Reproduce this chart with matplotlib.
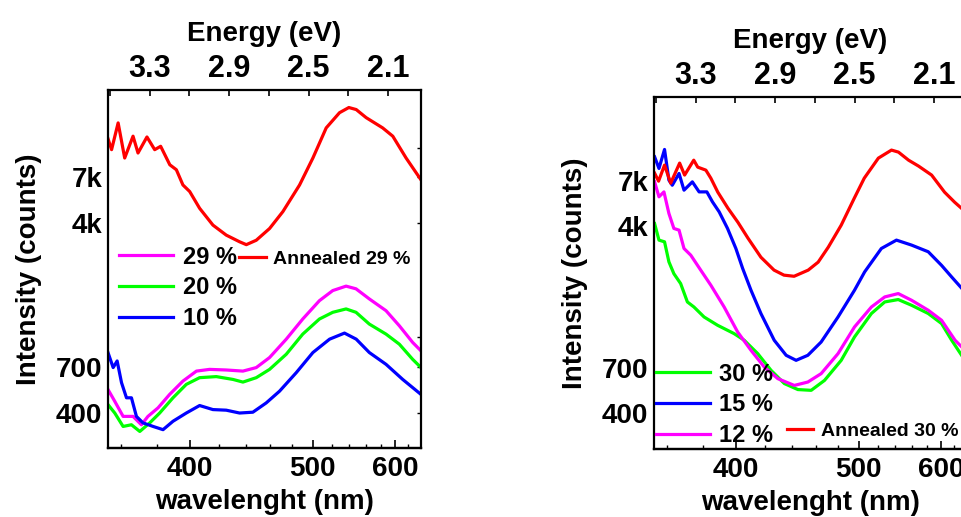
import numpy as np
import matplotlib
matplotlib.use("Agg")
import matplotlib.pyplot as plt
from matplotlib.ticker import NullFormatter

plt.rcParams['font.family'] = ['Liberation Sans', 'DejaVu Sans']
plt.rcParams['font.weight'] = 'bold'

HC = 1239.84  # eV*nm

# ---- left panel (energy in eV, intensity in counts) ----
ann29_ev = [3.511, 3.492, 3.459, 3.426, 3.384, 3.359, 3.314, 3.275, 3.245, 3.199, 3.166,
            3.133, 3.099, 3.049, 2.982, 2.915, 2.848, 2.814, 2.764, 2.697, 2.630, 2.546,
            2.479, 2.412, 2.345, 2.298, 2.261, 2.211, 2.128, 2.077, 2.010, 1.935]
ann29_cts = [11300, 9820, 13600, 8870, 11570, 9430, 11460, 9820, 10230, 8170, 7690,
             6390, 5900, 4810, 3920, 3470, 3200, 3090, 3260, 3760, 4620, 6390,
             8870, 12800, 15400, 16400, 16000, 14500, 12800, 11570, 8870, 6800]

p29_ev = [3.510, 3.476, 3.434, 3.384, 3.342, 3.309, 3.258, 3.200, 3.133, 3.065, 2.999,
          2.915, 2.831, 2.764, 2.697, 2.613, 2.530, 2.446, 2.379, 2.312, 2.262, 2.195,
          2.111, 2.044, 1.977, 1.935]
p29_cts = [530, 459, 382, 382, 345, 382, 424, 499, 587, 663, 677,
           672, 663, 692, 782, 978, 1250, 1563, 1767, 1865, 1805, 1596,
           1383, 1151, 940, 848]

p20_ev = [3.510, 3.476, 3.434, 3.392, 3.350, 3.300, 3.250, 3.183, 3.116, 3.049, 2.965,
          2.881, 2.831, 2.764, 2.697, 2.613, 2.530, 2.446, 2.379, 2.312, 2.262, 2.195,
          2.111, 2.044, 1.977, 1.935]
p20_cts = [441, 398, 338, 345, 318, 353, 398, 479, 564, 612, 620,
           599, 580, 612, 677, 814, 1040, 1250, 1356, 1413, 1356, 1175,
           1040, 920, 765, 692]

p10_ev = [3.510, 3.484, 3.464, 3.442, 3.417, 3.392, 3.367, 3.334, 3.283, 3.233, 3.183,
          3.116, 3.049, 2.982, 2.915, 2.848, 2.781, 2.714, 2.647, 2.563, 2.479, 2.395,
          2.320, 2.261, 2.195, 2.111, 2.027, 1.935]
p10_cts = [831, 692, 750, 576, 479, 479, 382, 353, 338, 325, 360,
           398, 436, 415, 412, 398, 402, 450, 519, 650, 831, 978,
           1053, 978, 831, 720, 599, 499]

# ---- right panel ----
ann30_ev = [3.507, 3.487, 3.457, 3.426, 3.381, 3.356, 3.310, 3.290, 3.249, 3.224, 3.189,
            3.138, 3.088, 3.037, 2.972, 2.906, 2.856, 2.805, 2.734, 2.684, 2.633, 2.568,
            2.502, 2.452, 2.381, 2.315, 2.280, 2.229, 2.179, 2.113, 2.048, 1.997, 1.952]
ann30_cts = [7680, 6960, 8480, 6790, 8690, 7500, 9010, 8270, 7970, 7220, 6080,
             4990, 4200, 3450, 2730, 2330, 2190, 2160, 2330, 2570, 3090, 4050,
             5650, 7220, 9240, 10200, 9950, 9010, 8380, 7500, 6080, 5370, 4870]

p15_ev = [3.507, 3.485, 3.457, 3.435, 3.418, 3.384, 3.359, 3.317, 3.283, 3.244, 3.216,
          3.182, 3.140, 3.098, 3.064, 3.022, 2.972, 2.905, 2.845, 2.795, 2.736, 2.669,
          2.584, 2.501, 2.450, 2.366, 2.290, 2.214, 2.130, 2.063, 2.012, 1.953]
p15_cts = [9390, 8140, 10280, 7050, 6620, 7650, 6230, 6900, 6100, 6100, 5400,
           4770, 3890, 3040, 2380, 1820, 1366, 983, 817, 768, 817, 962,
           1309, 1820, 2280, 3040, 3370, 3170, 2920, 2470, 2140, 1820]

p12_ev = [3.507, 3.485, 3.460, 3.435, 3.410, 3.384, 3.359, 3.325, 3.275, 3.224, 3.157,
          3.089, 3.022, 2.955, 2.887, 2.804, 2.736, 2.669, 2.584, 2.501, 2.416, 2.349,
          2.281, 2.214, 2.130, 2.063, 1.995, 1.953]
p12_cts = [6900, 5740, 6100, 4680, 3890, 3810, 3040, 2800, 2330, 1935, 1480,
           1088, 869, 707, 613, 564, 588, 652, 834, 1158, 1480, 1675,
           1746, 1608, 1422, 1257, 983, 887]

p30_ev = [3.507, 3.485, 3.457, 3.435, 3.410, 3.376, 3.342, 3.309, 3.258, 3.190, 3.107,
          3.056, 2.988, 2.921, 2.854, 2.786, 2.719, 2.652, 2.568, 2.501, 2.416, 2.349,
          2.281, 2.214, 2.130, 2.063, 2.012, 1.962]
p30_cts = [4130, 3370, 3300, 2580, 2230, 1975, 1575, 1480, 1309, 1182, 1067,
           983, 834, 679, 577, 536, 531, 600, 768, 1024, 1366, 1575,
           1622, 1512, 1366, 1207, 983, 817]

energy_ticks = [3.3, 2.9, 2.5, 2.1]
energy_minor = [3.5, 3.1, 2.7, 2.3]
nm_ticks = [400, 500, 600]
nm_minor = [360, 380, 420, 440, 460, 480, 520, 540, 560, 580, 620]
y_ticks = [400, 700, 4000, 7000]
y_labels = ['400', '700', '4k', '7k']
y_right_ticks = [400, 700, 1000, 4000, 7000, 10000]

MAGENTA, GREEN, BLUE, RED = '#ff00ff', '#00ff00', '#0000ff', '#ff0000'


def to_nm(e):
    return HC / np.maximum(e, 1e-6)


def setup_axes(ax, ylim):
    ax.set_xlim(3.51, 1.935)
    ax.set_yscale('log')
    ax.set_ylim(*ylim)
    for s in ax.spines.values():
        s.set_linewidth(1.6)

    # energy on the top
    ax.xaxis.tick_top()
    ax.xaxis.set_label_position('top')
    ax.set_xticks(energy_ticks, labels=[f"{e:.1f}" for e in energy_ticks])
    ax.set_xticks(energy_minor, minor=True)
    ax.tick_params(axis='x', which='both', direction='in', labelsize=22, pad=4,
                   length=4, width=1.2)
    ax.set_xlabel('Energy (eV)', fontsize=20, fontweight='bold', labelpad=10)

    # wavelength on the bottom
    sec = ax.secondary_xaxis('bottom', functions=(to_nm, to_nm))
    sec.set_xticks(nm_ticks, labels=[str(v) for v in nm_ticks])
    sec.set_xticks(nm_minor, minor=True)
    sec.tick_params(axis='x', which='major', direction='in', labelsize=20,
                    length=6, width=1.2, pad=6)
    sec.tick_params(axis='x', which='minor', direction='in', length=3, width=1.0)
    sec.spines['bottom'].set_linewidth(1.6)
    sec.set_xlabel('wavelenght (nm)', fontsize=20, fontweight='bold', labelpad=5)

    ax.set_yticks(y_ticks, labels=y_labels)
    ax.set_yticks(y_right_ticks, minor=True)
    ax.yaxis.set_minor_formatter(NullFormatter())
    ax.tick_params(axis='y', which='both', direction='in', left=False, right=True,
                   labelleft=True, labelsize=20, length=3, width=1.0, pad=4)
    ax.set_ylabel('Intensity (counts)', fontsize=20, fontweight='bold')
    ax.yaxis.set_label_coords(-0.21, 0.5)


fig = plt.figure(figsize=(9.62, 5.17), dpi=100)
ax1 = fig.add_axes([108 / 962, 69 / 517, 313 / 962, 358 / 517])
ax2 = fig.add_axes([654 / 962, 68 / 517, 313 / 962, 352 / 517])

lw = 2.3
l29, = ax1.plot(p29_ev, p29_cts, color=MAGENTA, lw=lw, label='29 %')
l20, = ax1.plot(p20_ev, p20_cts, color=GREEN, lw=lw, label='20 %')
l10, = ax1.plot(p10_ev, p10_cts, color=BLUE, lw=lw, label='10 %')
la29, = ax1.plot(ann29_ev, ann29_cts, color=RED, lw=lw, label='Annealed 29 %')
setup_axes(ax1, (260, 20300))

leg_kw = dict(frameon=False, fontsize=17, handlelength=2.3, handletextpad=0.4,
              labelspacing=0.32, borderpad=0, borderaxespad=0)
ann_kw = dict(frameon=False, fontsize=14, handlelength=1.35, handletextpad=0.4,
              borderpad=0, borderaxespad=0)

leg1 = ax1.legend(handles=[l29, l20, l10], loc='upper left',
                  bbox_to_anchor=(0.035, 0.565), **leg_kw)
ax1.add_artist(leg1)
ax1.legend(handles=[la29], loc='upper left', bbox_to_anchor=(0.42, 0.552), **ann_kw)

l30, = ax2.plot(p30_ev, p30_cts, color=GREEN, lw=lw, label='30 %')
l15, = ax2.plot(p15_ev, p15_cts, color=BLUE, lw=lw, label='15 %')
l12, = ax2.plot(p12_ev, p12_cts, color=MAGENTA, lw=lw, label='12 %')
la30, = ax2.plot(ann30_ev, ann30_cts, color=RED, lw=lw, label='Annealed 30 %')
setup_axes(ax2, (258, 19600))

leg2 = ax2.legend(handles=[l30, l15, l12], loc='upper left',
                  bbox_to_anchor=(0.005, 0.245), **leg_kw)
ax2.add_artist(leg2)
ax2.legend(handles=[la30], loc='upper left', bbox_to_anchor=(0.425, 0.075), **ann_kw)

fig.savefig('out.png', dpi=100)
